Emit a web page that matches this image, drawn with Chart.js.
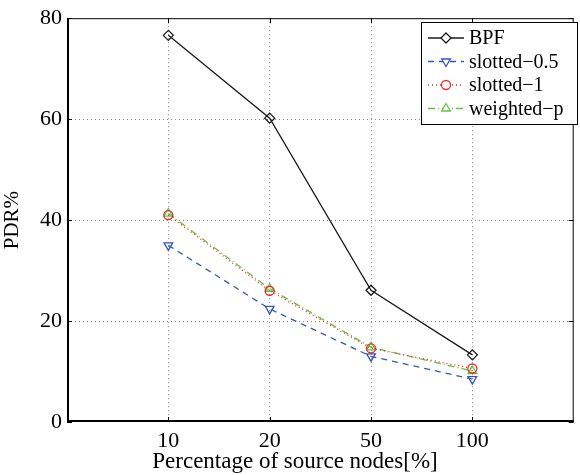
<!DOCTYPE html>
<html>
<head>
<meta charset="utf-8">
<script src="https://cdn.jsdelivr.net/npm/chart.js@4.4.1/dist/chart.umd.min.js"></script>
<style>
  html, body { margin: 0; padding: 0; background: #fff; }
  #wrap { width: 580px; height: 475px; position: relative; }
</style>
</head>
<body>
<div id="wrap"><canvas id="c"></canvas></div>
<script>
const categories = ["10", "20", "50", "100"];
const bpf = [76.6, 60.2, 26.1, 13.3];
const slotted05 = [35.0, 22.4, 13.0, 8.5];
const slotted1 = [41.0, 26.0, 14.6, 10.6];
const weightedP = [41.3, 26.4, 14.8, 10.1];
const yTicks = [0, 20, 40, 60, 80];
const xTitle = "Percentage of source nodes[%]";

const FONT = "'Liberation Serif', 'DejaVu Serif', serif";

const toPoints = (arr) => arr.map((v, i) => ({ x: i + 1, y: v }));

const datasets = [
  { label: "BPF", data: toPoints(bpf), borderColor: "#1a1a1a", pointStyle: "rectRot",
    pointRadius: 5, pointRotation: 0, borderDash: [] },
  { label: "slotted\u22120.5", data: toPoints(slotted05), borderColor: "#3557b7", pointStyle: "triangle",
    pointRadius: 5, pointRotation: 180, borderDash: [6, 5] },
  { label: "slotted\u22121", data: toPoints(slotted1), borderColor: "#e8302a", pointStyle: "circle",
    pointRadius: 4.5, pointRotation: 0, borderDash: [1, 3] },
  { label: "weighted\u2212p", data: toPoints(weightedP), borderColor: "#66c043", pointStyle: "triangle",
    pointRadius: 5, pointRotation: 0, borderDash: [7, 3, 1, 3] }
].map(d => Object.assign(d, {
  backgroundColor: "rgba(0,0,0,0)",
  pointBackgroundColor: "rgba(0,0,0,0)",
  pointBorderColor: d.borderColor,
  borderWidth: 1.3,
  pointBorderWidth: 1.3,
  fill: false,
  tension: 0
}));

// box frame + inward ticks + x title + legend
const framePlugin = {
  id: "frame",
  afterDraw(chart) {
    const { ctx, chartArea: a, scales } = chart;
    ctx.save();
    ctx.strokeStyle = "#000";
    ctx.lineWidth = 1;
    ctx.beginPath();
    ctx.moveTo(a.left, a.top + 0.5);
    ctx.lineTo(a.right - 0.5, a.top + 0.5);
    ctx.lineTo(a.right - 0.5, a.bottom);
    ctx.stroke();
    ctx.lineWidth = 2;
    ctx.beginPath();
    ctx.moveTo(a.left + 1, a.top);
    ctx.lineTo(a.left + 1, a.bottom - 1);
    ctx.lineTo(a.right, a.bottom - 1);
    ctx.stroke();
    ctx.lineWidth = 1;
    ctx.beginPath();
    [1, 2, 3, 4].forEach(v => {
      const x = Math.round(scales.x.getPixelForValue(v)) + 0.5;
      ctx.moveTo(x, a.bottom); ctx.lineTo(x, a.bottom - 5);
      ctx.moveTo(x, a.top); ctx.lineTo(x, a.top + 5);
    });
    yTicks.forEach(v => {
      const y = Math.round(scales.y.getPixelForValue(v)) + 0.5;
      ctx.moveTo(a.left, y); ctx.lineTo(a.left + 5, y);
      ctx.moveTo(a.right, y); ctx.lineTo(a.right - 5, y);
    });
    ctx.stroke();

    // x axis title
    ctx.fillStyle = "#000";
    ctx.font = "23px " + FONT;
    ctx.textAlign = "center";
    ctx.textBaseline = "middle";
    ctx.fillText(xTitle, 295, 462);

    // legend
    const lx = 421, ly = 22, lw = 156, lh = 102;
    ctx.textAlign = "left";
    ctx.fillStyle = "#fff";
    ctx.fillRect(lx, ly, lw, lh);
    ctx.strokeStyle = "#000";
    ctx.strokeRect(lx + 0.5, ly + 0.5, lw, lh);
    ctx.font = "20px " + FONT;
    chart.data.datasets.forEach((d, i) => {
      const y = ly + 16 + i * 23.5;
      ctx.strokeStyle = d.borderColor;
      ctx.lineWidth = 1.3;
      ctx.setLineDash(d.borderDash);
      ctx.beginPath();
      ctx.moveTo(lx + 7, y); ctx.lineTo(lx + 43, y);
      ctx.stroke();
      ctx.setLineDash([]);
      ctx.fillStyle = "#fff";
      Chart.helpers.drawPoint(ctx, {
        pointStyle: d.pointStyle, radius: d.pointRadius, rotation: d.pointRotation, borderWidth: 1.3
      }, lx + 25, y);
      ctx.fillStyle = "#000";
      ctx.fillText(d.label, lx + 48, y + 1);
    });
    ctx.restore();
  }
};

new Chart(document.getElementById("c"), {
  type: "line",
  data: { datasets },
  options: {
    responsive: true,
    maintainAspectRatio: false,
    animation: false,
    layout: { padding: { top: 15, right: 2, left: 0, bottom: 0 } },
    plugins: { legend: { display: false }, tooltip: { enabled: false } },
    scales: {
      x: {
        type: "linear", min: 0, max: 5,
        afterBuildTicks: (s) => { s.ticks = categories.map((c, i) => ({ value: i + 1 })); },
        afterFit: (s) => { s.height = 53; },
        ticks: {
          callback: (v) => categories[v - 1] || "",
          font: { family: FONT, size: 22 }, color: "#000", maxRotation: 0, padding: 6
        },
        grid: { color: "#888", lineWidth: 1, drawTicks: false },
        border: { display: false, dash: [1, 3] },
        title: { display: false }
      },
      y: {
        min: 0, max: 80,
        afterBuildTicks: (s) => { s.ticks = yTicks.map(v => ({ value: v })); },
        afterFit: (s) => { s.width = 67; },
        ticks: { font: { family: FONT, size: 22 }, color: "#000", padding: 5 },
        grid: {
          color: (c) => (c.tick.value === 0 || c.tick.value === 80) ? "rgba(0,0,0,0)" : "#888",
          lineWidth: 1, drawTicks: false
        },
        border: { display: false, dash: [1, 3] },
        title: { display: true, text: "PDR%", font: { family: FONT, size: 21 }, color: "#000",
          padding: { top: 0, bottom: 2 } }
      }
    }
  },
  plugins: [framePlugin]
});
</script>
</body>
</html>
